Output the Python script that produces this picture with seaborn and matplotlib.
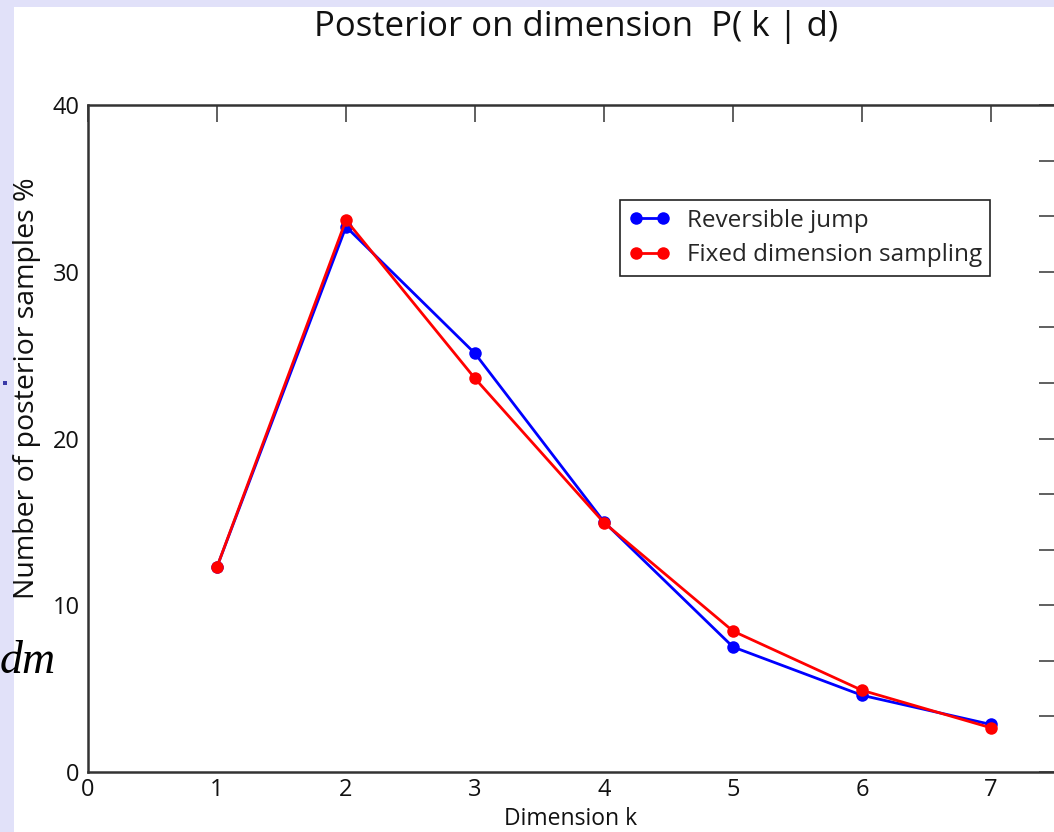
import numpy as np
import pandas as pd
import matplotlib
matplotlib.use("Agg")
import matplotlib.pyplot as plt
from matplotlib.patches import Rectangle
from matplotlib.lines import Line2D
import seaborn as sns

# ---- data ----
dimension = [1, 2, 3, 4, 5, 6, 7]
reversible_jump = [12.3, 32.7, 25.1, 15.0, 7.5, 4.6, 2.85]
fixed_dimension = [12.3, 33.1, 23.6, 14.95, 8.45, 4.9, 2.65]
series_names = ["Reversible jump", "Fixed dimension sampling"]
series_colors = ["#0000ff", "#ff0000"]
title_text = "Posterior on dimension  P( k | d)"
xlabel_text = "Dimension k"
ylabel_text = "Number of posterior samples %"
xticks = [0, 1, 2, 3, 4, 5, 6, 7]
yticks = [0, 10, 20, 30, 40]

sns.set_theme(style="white")
FONT = "Open Sans"
plt.rcParams["font.family"] = [FONT, "DejaVu Sans"]

W, H = 1054, 832
fig = plt.figure(figsize=(W / 100, H / 100), dpi=100)
fig.patch.set_facecolor("#e1e1f9")
fig.patches.append(Rectangle((14 / W, 0), 1, 1 - 7 / H, transform=fig.transFigure,
                             facecolor="white", edgecolor="none", zorder=-10))
fig.patches.append(Rectangle((3 / W, 1 - 385 / H), 4 / W, 4 / H, transform=fig.transFigure,
                             facecolor="#3a3aa8", edgecolor="none", zorder=-5))

X0, X1, YT, YB = 88, 1055.5, 105, 772
ax = fig.add_axes([X0 / W, 1 - YB / H, (X1 - X0) / W, (YB - YT) / H])
ax.set_facecolor("none")
ax.set_zorder(5)

df = pd.DataFrame({
    "k": dimension * 2,
    "value": reversible_jump + fixed_dimension,
    "series": [series_names[0]] * len(dimension) + [series_names[1]] * len(dimension),
})
sns.lineplot(data=df, x="k", y="value", hue="series", hue_order=series_names,
             palette=series_colors, marker="o", markersize=9, markeredgewidth=0,
             linewidth=2.0, ax=ax, legend=False)

ax.set_xlim(0, 7.5)
ax.set_ylim(0, 40)
ax.set_xticks(xticks)
ax.set_xticklabels([str(t) for t in xticks])
ax.set_yticks(yticks)
ax.set_yticklabels([str(t) for t in yticks])
ax.set_yticks([v for v in np.arange(0, 40.01, 10 / 3) if abs(v / 10 - round(v / 10)) > 1e-6], minor=True)
ax.tick_params(axis="both", which="both", direction="in", length=12, width=1.2,
               color="#444444", top=True, right=True, labelsize=17, labelcolor="#111111")
ax.tick_params(axis="x", pad=4)
ax.tick_params(axis="y", pad=6)
for s in ax.spines.values():
    s.set_color("#333333")
    s.set_linewidth(1.8)
    s.set_visible(True)

ax.set_xlabel(xlabel_text, fontsize=16.5, color="#111111", va="center")
ax.set_ylabel(ylabel_text, fontsize=20.5, color="#111111", va="center")
ax.xaxis.set_label_coords((571 - X0) / (X1 - X0), -(819 - YB) / (YB - YT))
ax.yaxis.set_label_coords(-(X0 - 27) / (X1 - X0), (YB - 388) / (YB - YT))

fig.text(576 / W, 1 - 27 / H, title_text, ha="center", va="center", fontsize=25, color="#111111")
fig.text(0 / W, 1 - 662 / H, "dm", ha="left", va="center", fontsize=33, style="italic",
         family="Liberation Serif", color="black")

handles = [Line2D([0], [0], color=c, marker="o", markersize=9, markeredgewidth=0, linewidth=2.0)
           for c in series_colors]
leg = ax.legend(handles, series_names, loc="upper left",
                bbox_to_anchor=((620 - X0) / (X1 - X0), (YB - 200) / (YB - YT)),
                numpoints=2, fontsize=17.5, frameon=True, fancybox=False, framealpha=1,
                borderpad=0.35, labelspacing=0.45, handlelength=1.7, handletextpad=0.7,
                borderaxespad=0)
leg.get_frame().set_edgecolor("#222222")
leg.get_frame().set_linewidth(1.2)

fig.savefig("out.png", dpi=100)
